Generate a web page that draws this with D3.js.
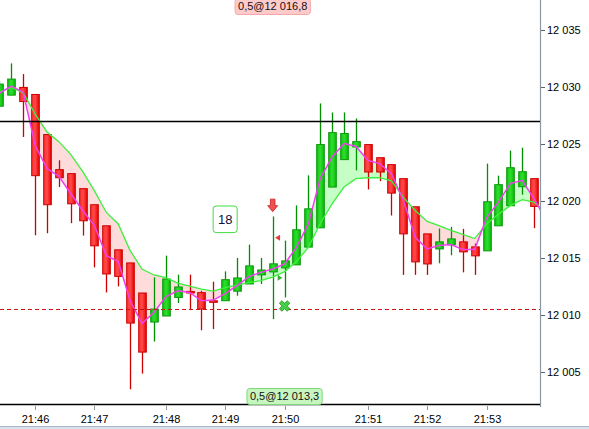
<!DOCTYPE html>
<html><head><meta charset="utf-8">
<script src="https://cdn.jsdelivr.net/npm/d3@7"></script>
<style>body{margin:0;background:#fff;overflow:hidden}svg{display:block;font-family:"Liberation Sans",Arial,sans-serif}</style>
</head><body><svg id="c" width="589" height="429"></svg>
<script>
// ---- data ----
const openP  = [12028.31,12029.28,12029.96,12029.34,12025.82,12022.74,12022.39,12021.07,12019.66,12017.81,12015.70,12014.55,12011.91,12009.36,12009.89,12011.52,12012.05,12011.94,12011.23,12011.23,12012.07,12012.70,12013.50,12013.76,12014.11,12014.38,12015.94,12017.63,12021.21,12023.62,12024.73,12024.94,12023.79,12023.18,12021.95,12019.48,12017.10,12015.78,12016.14,12016.40,12015.96,12015.61,12017.81,12019.57,12021.24,12021.95];
const highP  = [12030.50,12032.07,12031.13,12029.34,12025.82,12023.56,12022.39,12021.07,12019.66,12017.81,12015.70,12014.55,12011.91,12013.28,12015.19,12013.52,12013.52,12012.10,12012.90,12013.81,12014.99,12016.16,12014.99,12018.63,12016.51,12019.60,12022.24,12028.55,12027.76,12027.76,12027.23,12024.94,12023.79,12023.18,12021.95,12019.48,12017.10,12017.57,12017.72,12017.54,12016.25,12023.27,12022.21,12024.41,12024.67,12021.95];
const lowP   = [12028.31,12029.28,12025.61,12016.98,12017.16,12021.21,12018.04,12016.95,12014.16,12011.96,12012.49,12003.46,12004.83,12007.65,12009.89,12011.03,12010.41,12008.64,12008.74,12011.23,12011.67,12012.70,12012.70,12009.62,12011.52,12014.38,12015.94,12017.63,12021.21,12023.62,12022.68,12021.00,12021.73,12018.71,12013.50,12013.50,12013.50,12014.52,12015.22,12013.72,12013.50,12015.61,12017.81,12019.57,12020.54,12017.60];
const closeP = [12030.25,12030.69,12028.72,12022.21,12019.66,12022.03,12019.74,12018.25,12016.05,12013.58,12013.37,12009.27,12006.72,12010.50,12013.14,12012.44,12011.91,12010.50,12011.23,12013.08,12013.23,12014.29,12013.93,12014.47,12014.73,12017.46,12019.30,12024.94,12025.99,12025.91,12025.20,12022.53,12022.53,12020.68,12017.10,12014.64,12014.46,12016.40,12016.66,12015.52,12015.17,12019.92,12021.42,12022.91,12022.56,12019.51];
// moving averages (last point lies just past the right edge of the plot)
const fastMA = [12029.45,12030.07,12029.54,12024.88,12022.85,12022.15,12020.65,12019.15,12017.83,12015.19,12014.67,12011.23,12009.23,12010.20,12011.58,12012.11,12011.96,12011.23,12011.29,12011.85,12012.55,12013.35,12013.72,12014.02,12014.46,12015.92,12017.98,12021.95,12023.85,12025.03,12024.79,12023.56,12023.27,12022.39,12020.04,12016.80,12015.78,12016.07,12016.16,12015.72,12015.72,12018.51,12019.89,12021.51,12021.80,12020.18,12018.35];
const slowMA = [12029.57,12029.96,12029.48,12027.63,12026.05,12025.20,12024.08,12022.59,12020.87,12018.98,12017.97,12015.63,12014.01,12013.49,12013.26,12012.77,12012.51,12012.25,12012.07,12012.38,12012.60,12012.82,12012.99,12013.30,12013.79,12014.67,12015.92,12018.01,12019.73,12021.21,12021.95,12022.03,12022.03,12021.75,12020.30,12019.15,12018.19,12017.83,12017.41,12017.06,12016.69,12017.97,12018.82,12019.58,12020.10,12019.88,12019.03];
const timeTickIdx = [3,8,14,19,24,31,36,41];
const timeLabels  = ["21:46","21:47","21:48","21:49","21:50","21:51","21:52","21:53"];
const priceTicks  = [12005,12010,12015,12020,12025,12030,12035];
const priceLabels = ["12 005","12 010","12 015","12 020","12 025","12 030","12 035"];
const resistLevel = 12027.0;
const stopLevel   = 12010.48;
const topTag      = {idx:23, text:"0,5@12 016,8"};
const bottomTag   = {idx:24, text:"0,5@12 013,3"};
const countTag    = {idx:19, value:12018.38, text:"18"};
const arrowMark   = {idx:23, value:12019.05};
const redTri      = {idx:23.41, value:12016.76};
const greenTri    = {idx:23.59, value:12013.24};
const crossMark   = {idx:24, value:12010.77};

// ---- layout ----
const plotR = 540, plotB = 404;
const x = d3.scaleLinear().domain([-0.5, 45.5]).range([-6.5, plotR]);
const step = x(1) - x(0);
const bw = step * 0.64;
const y = d3.scaleLinear().domain([12005, 12035]).range([371.7, 30]);
const n = openP.length;
const idx = d3.range(n);
const mIdx = d3.range(fastMA.length);

const svg = d3.select('#c');
const defs = svg.append('defs');
defs.append('clipPath').attr('id','plot').append('rect').attr('x',0).attr('y',0).attr('width',plotR).attr('height',plotB);
defs.append('clipPath').attr('id','below').append('path')
  .attr('d', d3.area().x(i=>x(i)).y0(i=>y(slowMA[i])).y1(plotB+50)(mIdx));
defs.append('clipPath').attr('id','above').append('path')
  .attr('d', d3.area().x(i=>x(i)).y0(-50).y1(i=>y(slowMA[i]))(mIdx));
function grad(id, stops){
  const g = defs.append('linearGradient').attr('id',id).attr('x1','0').attr('x2','1').attr('y1','0').attr('y2','0');
  stops.forEach(s=>g.append('stop').attr('offset',s[0]).attr('stop-color',s[1]));
}
grad('gUp',[[0,'#10c010'],[0.45,'#2ee02e'],[1,'#0cb80c']]);
grad('gDn',[[0,'#ff3030'],[0.45,'#ff4a4a'],[1,'#e80000']]);

const plot = svg.append('g').attr('clip-path','url(#plot)');

// fill between MAs
const between = d3.area().x(i=>x(i)).y0(i=>y(slowMA[i])).y1(i=>y(fastMA[i]));
plot.append('path').attr('d', between(mIdx)).attr('fill','#ffdcdc').attr('clip-path','url(#below)');
plot.append('path').attr('d', between(mIdx)).attr('fill','#c6ffc6').attr('clip-path','url(#above)');

// candles
const cg = plot.append('g');
idx.forEach(i=>{
  const up = closeP[i] > openP[i];
  const cx = Math.round(x(i)) + 0.5;
  cg.append('line').attr('x1',cx).attr('x2',cx).attr('y1',y(highP[i])).attr('y2',y(lowP[i]))
    .attr('stroke', up ? '#009000' : '#cc0000').attr('stroke-width',1.3);
  const top = y(Math.max(openP[i], closeP[i]));
  const h = Math.max(1.6, Math.abs(y(openP[i]) - y(closeP[i])));
  cg.append('rect').attr('x', cx - bw/2).attr('y', top).attr('width', bw).attr('height', h)
    .attr('fill', up ? 'url(#gUp)' : 'url(#gDn)')
    .attr('stroke', up ? '#0a9a0a' : '#cc0000').attr('stroke-width',1);
});

// MA lines
plot.append('path').attr('d', d3.line().x(i=>x(i)).y(i=>y(slowMA[i]))(mIdx))
  .attr('fill','none').attr('stroke','#3cf03c').attr('stroke-width',1.3);
plot.append('path').attr('d', d3.line().x(i=>x(i)).y(i=>y(fastMA[i]))(mIdx))
  .attr('fill','none').attr('stroke','#f040f0').attr('stroke-width',1.5);

// levels
plot.append('line').attr('x1',0).attr('x2',plotR).attr('y1',Math.round(y(resistLevel))+0.5).attr('y2',Math.round(y(resistLevel))+0.5)
  .attr('stroke','#000').attr('stroke-width',1.3);
plot.append('line').attr('x1',0).attr('x2',plotR).attr('y1',Math.round(y(stopLevel))+0.5).attr('y2',Math.round(y(stopLevel))+0.5)
  .attr('stroke','#cc1111').attr('stroke-width',1).attr('stroke-dasharray','4,3');

// markers
const ax = x(arrowMark.idx), ay = y(arrowMark.value);
plot.append('path').attr('d',`M${ax-2.3},${ay-12.5}L${ax+2.3},${ay-12.5}L${ax+2.3},${ay-6}L${ax+5},${ay-6}L${ax},${ay}L${ax-5},${ay-6}L${ax-2.3},${ay-6}Z`)
  .attr('fill','#f05050').attr('stroke','#c82020').attr('stroke-width',0.8);
const rx = x(redTri.idx), ry = y(redTri.value);
plot.append('path').attr('d',`M${rx-2.5},${ry}L${rx+2.5},${ry-3}L${rx+2.5},${ry+3}Z`).attr('fill','#e83838');
const gx = x(greenTri.idx), gy = y(greenTri.value);
plot.append('path').attr('d',`M${gx+2.5},${gy}L${gx-2},${gy-3}L${gx-2},${gy+3}Z`).attr('fill','#30b030');
plot.append('path').attr('d', d3.symbol(d3.symbolCross, 70)())
  .attr('transform',`translate(${x(crossMark.idx)},${y(crossMark.value)}) rotate(45)`)
  .attr('fill','#44cc44').attr('stroke','#2a9a2a').attr('stroke-width',0.8);

// count tag
const tx = x(countTag.idx), ty = y(countTag.value);
svg.append('rect').attr('x',tx-12).attr('y',ty-13.3).attr('width',24).attr('height',26.6).attr('rx',3)
  .attr('fill','#fff').attr('stroke','#40dd40').attr('stroke-width',1);
svg.append('text').attr('x',tx).attr('y',ty).attr('dy','0.35em').attr('text-anchor','middle')
  .attr('font-size',13).attr('fill','#101040').text(countTag.text);

// right axis
svg.append('line').attr('x1',plotR+0.5).attr('x2',plotR+0.5).attr('y1',0).attr('y2',407).attr('stroke','#8797a4').attr('stroke-width',1.2);
priceTicks.forEach((v,k)=>{
  const py = Math.round(y(v))+0.5;
  svg.append('line').attr('x1',plotR+1).attr('x2',plotR+5).attr('y1',py).attr('y2',py).attr('stroke','#56646e');
  svg.append('text').attr('x',plotR+7).attr('y',py).attr('dy','0.35em').attr('font-size',11).attr('fill','#000').text(priceLabels[k]);
});

// bottom axis
svg.append('line').attr('x1',0).attr('x2',plotR).attr('y1',plotB+0.5).attr('y2',plotB+0.5).attr('stroke','#000').attr('stroke-width',1.3);
timeTickIdx.forEach((i,k)=>{
  const px = Math.round(x(i))+0.5;
  svg.append('line').attr('x1',px).attr('x2',px).attr('y1',406).attr('y2',410).attr('stroke','#8797a4');
  svg.append('text').attr('x',px).attr('y',419).attr('dy','0.35em').attr('text-anchor','middle').attr('font-size',11).attr('fill','#000').text(timeLabels[k]);
});
svg.append('rect').attr('x',0).attr('y',426).attr('width',589).attr('height',3).attr('fill','#d6e2ee');
svg.append('line').attr('x1',0).attr('x2',589).attr('y1',426.5).attr('y2',426.5).attr('stroke','#a8b8c8');

// price tags
function tag(t, cy, fill, stroke){
  const cx = x(t.idx);
  const g = svg.append('g');
  const txt = g.append('text').attr('x',cx).attr('y',cy).attr('dy','0.35em').attr('text-anchor','middle').attr('font-size',11).attr('fill','#111').text(t.text);
  const w = txt.node().getComputedTextLength() + 6;
  g.insert('rect','text').attr('x',cx-w/2).attr('y',cy-8).attr('width',w).attr('height',16).attr('rx',3)
    .attr('fill',fill).attr('stroke',stroke).attr('stroke-width',1);
}
tag(topTag, 6.5, '#ffcaca', '#f4a8a8');
tag(bottomTag, 396.5, '#c8f4c0', '#7ed77e');
</script></body></html>
